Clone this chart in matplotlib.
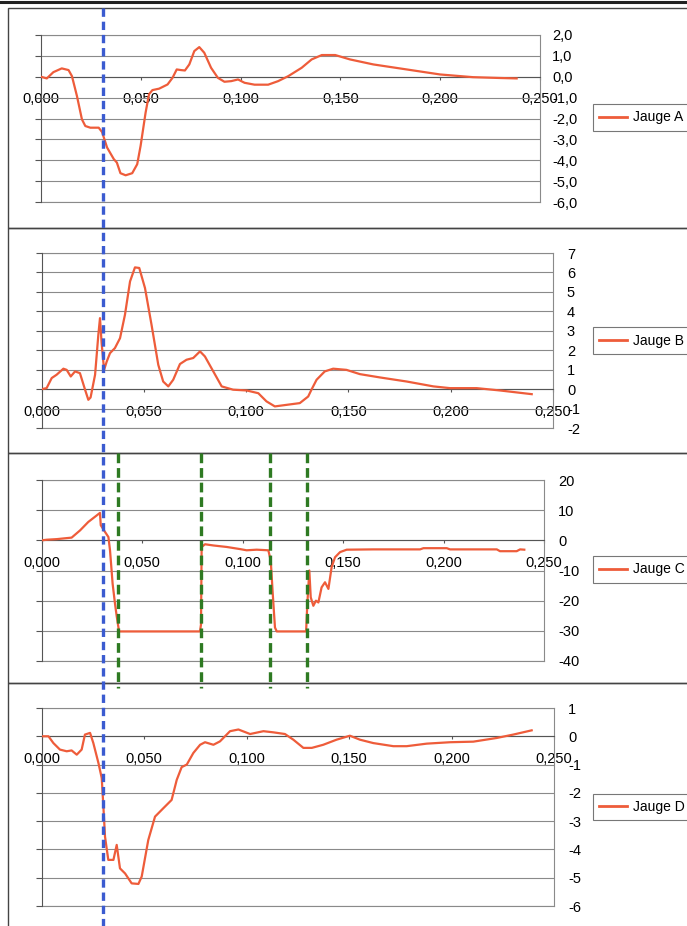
import numpy as np
import matplotlib
matplotlib.use("Agg")
import matplotlib.pyplot as plt
from matplotlib import transforms
from matplotlib.lines import Line2D
from matplotlib.patches import Rectangle
from matplotlib.ticker import FuncFormatter, MultipleLocator

plt.rcParams['font.family'] = ['Liberation Sans', 'DejaVu Sans']
plt.rcParams['lines.scale_dashes'] = False

# --- data (time in s) ---
tA = [0, 0.0029, 0.0062, 0.0104, 0.0138, 0.0155, 0.018, 0.0205, 0.0222, 0.0247,
      0.0289, 0.0306, 0.0331, 0.0365, 0.038, 0.0398, 0.0424, 0.0457, 0.0482, 0.0499,
      0.0524, 0.0541, 0.0558, 0.0592, 0.0634, 0.0659, 0.068, 0.0701, 0.0721, 0.0743,
      0.0768, 0.0793, 0.0818, 0.0852, 0.0886, 0.0919, 0.0953, 0.0987, 0.102, 0.107,
      0.1138, 0.1188, 0.1239, 0.1306, 0.1356, 0.1407, 0.1474, 0.1548, 0.1665, 0.1832,
      0.1999, 0.2164, 0.23, 0.2383]
yA = [0, -0.08, 0.22, 0.4, 0.32, 0.03, -0.92, -2.04, -2.36, -2.44,
      -2.44, -2.65, -3.39, -3.95, -4.11, -4.62, -4.72, -4.62, -4.19, -3.31,
      -1.72, -0.84, -0.64, -0.57, -0.37, -0.05, 0.35, 0.32, 0.30, 0.59,
      1.23, 1.42, 1.15, 0.43, -0.05, -0.24, -0.21, -0.13, -0.29, -0.38,
      -0.38, -0.21, 0.03, 0.43, 0.83, 1.04, 1.04, 0.83, 0.59, 0.35,
      0.11, -0.02, -0.06, -0.08]

tB = [0, 0.0024, 0.0049, 0.0073, 0.0106, 0.0122, 0.0142, 0.0163, 0.0187, 0.0212,
      0.0228, 0.0239, 0.0261, 0.0277, 0.0285, 0.0293, 0.0305, 0.0318, 0.0334, 0.0358,
      0.0383, 0.0407, 0.0432, 0.0456, 0.0477, 0.0505, 0.0537, 0.057, 0.0594, 0.0619,
      0.0643, 0.0676, 0.0708, 0.0741, 0.0774, 0.0798, 0.0839, 0.088, 0.0936, 0.1002,
      0.1059, 0.1099, 0.114, 0.1197, 0.1262, 0.1303, 0.1319, 0.1344, 0.1384, 0.1425,
      0.149, 0.1556, 0.1654, 0.1785, 0.1915, 0.1996, 0.2127, 0.2241, 0.2396]
yB = [0, 0.05, 0.57, 0.74, 1.05, 0.99, 0.65, 0.91, 0.82, -0.03,
      -0.55, -0.43, 0.74, 2.8, 3.65, 2.37, 0.99, 1.42, 1.85, 2.11,
      2.62, 3.82, 5.54, 6.26, 6.23, 5.2, 3.31, 1.25, 0.39, 0.14,
      0.48, 1.29, 1.51, 1.6, 1.94, 1.68, 0.91, 0.14, -0.03, -0.07,
      -0.21, -0.63, -0.89, -0.81, -0.72, -0.38, -0.03, 0.48, 0.91, 1.05,
      0.99, 0.77, 0.6, 0.39, 0.14, 0.05, 0.05, -0.07, -0.26]

tC = [0, 0.0025, 0.0075, 0.0149, 0.0191, 0.0232, 0.0265, 0.029, 0.0294, 0.0315,
      0.0332, 0.034, 0.0353, 0.0365, 0.0373, 0.0385, 0.0788, 0.0793, 0.0796, 0.0813,
      0.0854, 0.0921, 0.0987, 0.102, 0.107, 0.1128, 0.114, 0.115, 0.1161, 0.117,
      0.1316, 0.1322, 0.1332, 0.1339, 0.1352, 0.1365, 0.1377, 0.1393, 0.141, 0.1427,
      0.1443, 0.146, 0.1485, 0.1518, 0.165, 0.1883, 0.19, 0.2016, 0.2032, 0.2265,
      0.2281, 0.2364, 0.2381, 0.2402]
yC = [0, 0.2, 0.4, 0.9, 3.3, 6.1, 7.8, 9.1, 5.0, 2.8,
      1.1, -3.3, -14.4, -21.1, -25, -30.2, -30.2, -27.8, -2.2, -1.3,
      -1.7, -2.2, -2.9, -3.3, -3.1, -3.3, -6.7, -17.8, -28.9, -30.2,
      -30.2, -21.1, -10, -18.9, -21.7, -20, -20.6, -15.6, -13.9, -16.1,
      -8.9, -5.6, -3.9, -3.1, -3.0, -3.0, -2.6, -2.6, -3.0, -3.0,
      -3.6, -3.6, -3.0, -3.1]

tD = [0, 0.0033, 0.0057, 0.0089, 0.0122, 0.0146, 0.0171, 0.0195, 0.0211, 0.0236,
      0.0252, 0.0277, 0.0293, 0.0301, 0.0309, 0.0325, 0.035, 0.0366, 0.0382, 0.0407,
      0.0439, 0.0472, 0.0488, 0.052, 0.0553, 0.0594, 0.0634, 0.0659, 0.0683, 0.0708,
      0.074, 0.0773, 0.0797, 0.0838, 0.087, 0.0919, 0.096, 0.1017, 0.1082, 0.113,
      0.1187, 0.1228, 0.1277, 0.1318, 0.1374, 0.1439, 0.1504, 0.1553, 0.1618, 0.1716,
      0.1781, 0.1879, 0.1993, 0.2106, 0.222, 0.2301, 0.2391]
yD = [0, 0, -0.24, -0.47, -0.53, -0.5, -0.65, -0.47, 0.06, 0.12,
      -0.24, -0.95, -1.48, -2.48, -3.55, -4.37, -4.37, -3.84, -4.67, -4.85,
      -5.2, -5.22, -4.96, -3.67, -2.84, -2.54, -2.25, -1.54, -1.09, -1.0,
      -0.59, -0.3, -0.21, -0.3, -0.18, 0.18, 0.24, 0.08, 0.18, 0.14,
      0.08, -0.12, -0.41, -0.41, -0.3, -0.12, 0.02, -0.12, -0.24, -0.35,
      -0.35, -0.26, -0.21, -0.19, -0.06, 0.06, 0.21]

labels = ['Jauge A', 'Jauge B', 'Jauge C', 'Jauge D']
ylims = [(-6, 2), (-2, 7), (-40, 20), (-6, 1)]
ysteps = [1, 1, 10, 1]
ydecimals = [1, 0, 0, 0]

# event markers (s)
t_impact = 0.0305
t_switch = [0.038, 0.0793, 0.1136, 0.132]

# --- layout in pixels of the 687x926 image ---
W, H = 687, 926
# plot boxes: left, right, top, bottom
boxes = [(41, 540, 35, 202), (41.7, 553, 253, 428),
         (41.7, 544, 480, 661), (41.7, 554, 708, 906)]
# chart-area frames: top, bottom
frames = [(8, 228), (228, 453), (453, 683), (683, 940)]
legend_y = [117.5, 340.5, 569.5, 807]
ylab_pad = [8.6, 10, 10, 10]

red = '#EE5C3A'
grid_c = '#8a8a8a'

fig = plt.figure(figsize=(W / 100, H / 100), dpi=100)
fig.patch.set_facecolor('white')

series = [(tA, yA), (tB, yB), (tC, yC), (tD, yD)]
axes = []
for i, (t, y) in enumerate(series):
    l, r, top, bot = boxes[i]
    ax = fig.add_axes([l / W, 1 - bot / H, (r - l) / W, (bot - top) / H])
    axes.append(ax)
    line, = ax.plot(t, y, color=red, lw=1.6, zorder=3)

    ax.set_xlim(0, 0.25)
    ax.set_ylim(*ylims[i])
    ax.xaxis.set_major_locator(MultipleLocator(0.05))
    ax.yaxis.set_major_locator(MultipleLocator(ysteps[i]))
    ax.xaxis.set_major_formatter(FuncFormatter(lambda v, p: f"{v:.3f}".replace('.', ',')))
    dec = ydecimals[i]
    ax.yaxis.set_major_formatter(FuncFormatter(lambda v, p, d=dec: f"{v:.{d}f}".replace('.', ',')))

    ax.grid(axis='y', color=grid_c, lw=0.8)
    ax.set_axisbelow(True)
    # plot-area border lines at the top and bottom of the value range
    for lim in ylims[i]:
        ax.axhline(lim, color=grid_c, lw=0.8, clip_on=False, zorder=1)
    ax.spines['bottom'].set_position(('data', 0))
    ax.spines['bottom'].set_color('#555555')
    ax.spines['left'].set_color('#555555')
    ax.spines['right'].set_color(grid_c)
    ax.spines['top'].set_visible(False)
    for s in ax.spines.values():
        s.set_linewidth(0.8)

    ax.tick_params(axis='x', direction='out', length=2.5, width=0.8, color='#555555',
                   pad=8.8, labelsize=10.5)
    ax.tick_params(axis='y', direction='out', length=4, width=0.8, color='#555555',
                   left=True, right=False, labelleft=False, labelright=True,
                   pad=ylab_pad[i] - 4, labelsize=10.5)
    for lab in ax.get_yticklabels():
        lab.set_horizontalalignment('left')

    leg = ax.legend([line], [labels[i]], loc='center left',
                    bbox_to_anchor=(593 / W, 1 - legend_y[i] / H),
                    bbox_transform=fig.transFigure, borderaxespad=0,
                    fancybox=False, framealpha=1, edgecolor='#777777',
                    handlelength=2.0, handletextpad=0.4, borderpad=0.45,
                    fontsize=10)
    leg.get_frame().set_linewidth(0.8)
    leg.get_lines()[0].set_linewidth(2)

    ftop, fbot = frames[i]
    fig.add_artist(Rectangle((8 / W, 1 - fbot / H), (720 - 8) / W, (fbot - ftop) / H,
                             transform=fig.transFigure, fill=False,
                             ec='#444444', lw=1.0))

# top rule of the page
fig.add_artist(Line2D([0, 1], [1 - 1.5 / H, 1 - 1.5 / H], transform=fig.transFigure,
                      color='#222222', lw=2.2))

# dashed markers, placed in time on the Jauge C axis
axC = axes[2]
blend = transforms.blended_transform_factory(axC.transData, fig.transFigure)
for ts in t_switch:
    fig.add_artist(Line2D([ts, ts], [1 - 453 / H, 1 - 688 / H], transform=blend,
                          color='#2E7A22', lw=2.4, dashes=(7, 3.5), zorder=10))
fig.add_artist(Line2D([t_impact, t_impact], [1 - 8 / H, 0], transform=blend,
                      color='#3B5BD0', lw=2.4, dashes=(6, 3.5), zorder=11))

fig.savefig('out.png', dpi=100)
